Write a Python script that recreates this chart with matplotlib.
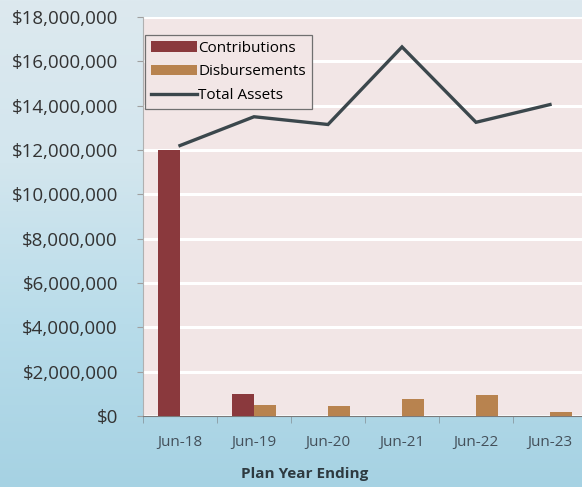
import numpy as np
import matplotlib
matplotlib.use("Agg")
import matplotlib.pyplot as plt
from matplotlib.patches import Patch
from matplotlib.lines import Line2D
from matplotlib.ticker import FuncFormatter, MultipleLocator

# values
years = ["Jun-18", "Jun-19", "Jun-20", "Jun-21", "Jun-22", "Jun-23"]
contributions = [12000000, 1000000, 0, 0, 0, 20000]
disbursements = [0, 500000, 470000, 770000, 950000, 180000]
total_assets = [12200000, 13500000, 13150000, 16650000, 13250000, 14050000]

plt.rcParams["font.family"] = ["Open Sans", "DejaVu Sans"]

fig = plt.figure(figsize=(5.82, 4.87), dpi=100)

# background: light blue, darker toward the bottom
bg = fig.add_axes([0, 0, 1, 1], zorder=-10)
grad = np.linspace(0, 1, 256).reshape(-1, 1)
cmap = matplotlib.colors.LinearSegmentedColormap.from_list(
    "bg", ["#a6d2e3", "#b8dcea", "#d3e6ee", "#dde9ef"])
bg.imshow(grad, aspect="auto", cmap=cmap, origin="lower", extent=[0, 1, 0, 1])
bg.set_axis_off()

ax = fig.add_axes([0.2457, 0.1458, 0.7629, 0.8193])
ax.set_facecolor("#f2e6e6")

x = np.arange(len(years))
w = 0.3
ax.bar(x - w / 2, contributions, w, color="#8a393d", zorder=3)
ax.bar(x + w / 2, disbursements, w, color="#b8834f", zorder=3)
ax.plot(x, total_assets, color="#3b474c", lw=2.4, zorder=4,
        solid_joinstyle="miter")

ax.set_ylim(0, 18000000)
ax.set_xlim(-0.5, 5.5)
ax.yaxis.set_major_locator(MultipleLocator(2000000))
ax.yaxis.set_major_formatter(FuncFormatter(lambda v, p: "${:,.0f}".format(v)))
ax.grid(axis="y", color="white", lw=2.2, zorder=1)
ax.set_axisbelow(True)

ax.set_xticks(x)
ax.set_xticklabels(years)
ax.set_xticks(np.arange(-0.5, 6, 1), minor=True)
ax.tick_params(axis="x", which="major", length=0, pad=14, labelsize=11,
               labelcolor="#44505a")
ax.tick_params(axis="x", which="minor", length=5, color="#8a9aa2")
ax.tick_params(axis="y", length=4, color="#a0a0a0", labelsize=13.5,
               labelcolor="#333333", pad=14)

for s in ["top", "right"]:
    ax.spines[s].set_visible(False)
ax.spines["left"].set_color("#b0b0b0")
ax.spines["bottom"].set_color("#7a7a7a")

fig.text(305 / 582, 1 - 474 / 487, "Plan Year Ending", ha="center",
         va="center", fontsize=11, fontweight="bold", color="#2e3a40")

handles = [
    Patch(facecolor="#8a393d", label="Contributions"),
    Patch(facecolor="#b8834f", label="Disbursements"),
    Line2D([0], [0], color="#3b474c", lw=2.4, label="Total Assets"),
]
leg = ax.legend(handles=handles, loc="upper left",
                bbox_to_anchor=(0.004, 0.955), borderaxespad=0, fontsize=11,
                handlelength=3.0, handleheight=0.7, handletextpad=0.1,
                labelspacing=0.55, borderpad=0.4, fancybox=False,
                framealpha=1, facecolor="#f2e6e6", edgecolor="#707070")
leg.get_frame().set_linewidth(0.9)

fig.savefig("out.png", dpi=100)
